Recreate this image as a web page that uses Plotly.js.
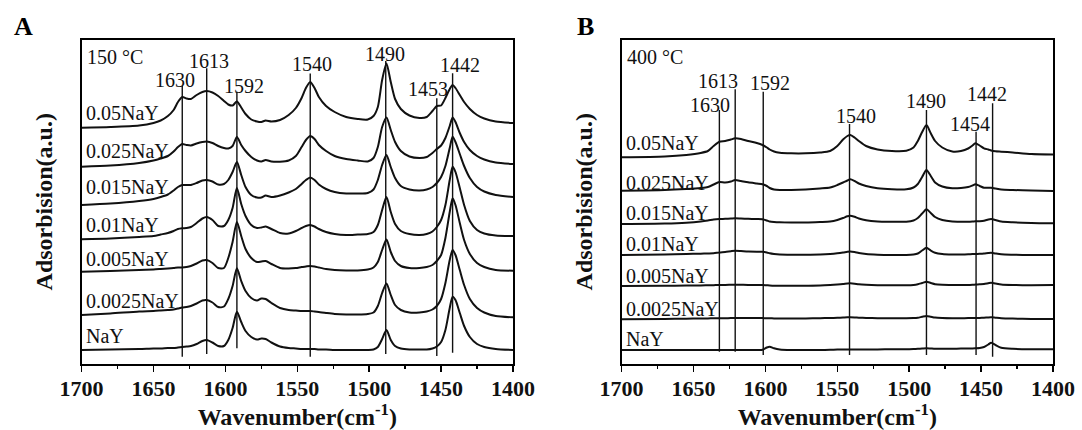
<!DOCTYPE html>
<html>
<head>
<meta charset="utf-8">
<script src="https://cdn.plot.ly/plotly-3.0.1.min.js"></script>
<style>html,body{margin:0;padding:0;background:#fff;}#chart{width:1082px;height:430px;}</style>
</head>
<body>
<div id="chart"></div>
<script>
// ---------- DATA ----------
const seriesNames = ['0.05NaY','0.025NaY','0.015NaY','0.01NaY','0.005NaY','0.0025NaY','NaY'];

// Panel A (150 °C) wavenumbers
const wnA = [1700,1680,1660,1650,1645,1640,1636,1633,1630,1627,
 1624,1620,1616,1613,1609,1605,1601,1598,1595,1592,
 1589,1586,1582,1578,1575,1572,1568,1562,1556,1551,
 1547,1544,1541,1538,1535,1530,1524,1516,1508,1501,
 1497,1494,1491,1488,1485,1482,1478,1472,1465,1460,
 1456,1453,1450,1447,1444,1442,1440,1437,1434,1430,
 1425,1420,1412,1400];

// stacked (offset) absorbance, arbitrary units
const a_005 = [235.8,236.5,238,240.5,243,247.5,253.5,261.5,266.5,265,
 264.5,268.5,271.5,272.5,271,267.5,262.5,259,258,262,
 256,249.5,244,242,241.5,243,242,243.5,248.5,255.5,
 265.5,275.5,281.5,275.5,266.5,257.5,251.5,246.5,244.5,244,
 247.5,256.5,283.5,300,281.5,264.5,254.5,248,245.5,246.5,
 252.5,257.5,258,265.5,274.5,278.5,275.5,268.5,261.5,254.5,
 248.5,245,242,240.5];
const a_0025 = [196.8,198,200.5,203,205,207.5,212,216.5,219.5,218.5,
 218,220,221.5,222,220.5,217.5,215.5,215,217.5,226.5,
 218.5,212.5,206.5,203,202,203.5,202,201.8,203,207.5,
 216.5,223.5,227.5,224.5,218.5,212.5,207.5,204.5,203,202,
 205.5,216.5,236.5,246,233.5,221.5,212.5,207,205.5,206.5,
 210.5,214.5,218,225.5,237.5,246,241.5,230.5,221.5,213.5,
 207.5,204,201,199.5];
const a_0015 = [158.5,160,162.5,164.5,166.5,169,173,176.5,178.5,178.5,
 178.5,180.5,183,183.5,182,179,179.5,183.5,191.5,201.5,
 188.5,176.5,168.5,166,166,168,166.5,168,171,174.5,
 179.5,183.5,186,183.5,179,174.5,171.5,170,170,170.5,
 174,183.5,198.5,208.5,196.5,185.5,177.5,174,173,174,
 176.5,180.5,186.5,197.5,215.5,226.8,221.5,209.5,197.5,185.5,
 176.5,172,168.5,166.5];
const a_001 = [124.2,125,126.5,127.5,129,130.5,132.5,134.5,135.2,135.5,
 136.5,140.5,145,146.5,143.5,137.5,137.5,143.5,155.5,175.5,
 159.5,147.5,138.5,135.5,136,137,134.5,130.5,130,132.5,
 135.5,137.5,138.5,137,134.5,131.5,129.5,128.5,129,129.5,
 131.5,138.5,153.5,166.5,151.5,139.5,132.5,129.5,128.5,129.5,
 132,136.5,143.5,158.5,183.5,196.8,191.5,175.5,158.5,142.5,
 133.5,130,128,127.5];
const a_0005 = [91.8,92.5,93.5,94,94.5,95,95.5,96,96,96.5,
 97.5,100,103,103.5,100.5,95.5,95.5,105.5,121.5,141.5,
 127.5,114.5,105.5,101.5,102,102.5,99.5,95.5,95,95.5,
 96.5,97,97.5,97,96,94.5,93.5,93,93,94,
 96,101.5,113.5,124,111.5,102.5,97.5,95.5,95.5,96.5,
 98.5,102.5,108.5,125.5,151.5,165.2,158.5,140.5,123.5,109.5,
 100.5,96.5,93.5,92.8];
const a_00025 = [48.5,50,52,52.5,53,53.5,54,55,56,56.5,
 57.5,60,63,63.5,61,56.5,57,64.5,77.5,95.2,
 82.5,72.5,65.5,63,65,64.5,60.5,55.5,53.5,53,
 52.5,52.5,52.5,52,51.5,50.5,49.5,49,49,49.5,
 51,57.5,70.5,80,68.5,58.5,53.5,51,51,52,
 54,57.5,64.5,80.5,103.5,113.5,108.5,93.5,78.5,64.5,
 55.5,51,47.5,46.2];
const a_NaY = [13.5,14,14.5,15,15,15.5,15.5,16,16.5,17,
 17.5,19.5,22.5,23.5,21,17.5,17.5,23.5,35.5,51.8,
 41.5,32.5,26.5,24,25,24.5,21,17,15.5,15,
 14.5,14.5,14.5,14.5,14,14,13.5,13.5,13.5,13.5,
 14,16.5,24.5,33.5,23.5,17.5,15,14,14,14,
 15,17,21.5,33.5,55.5,66.8,63.5,50.5,37.5,26.5,
 19.5,16.5,14.5,13.5];

// Panel B (400 °C) wavenumbers
const wnB = [1700,1670,1655,1645,1640,1636,1632,1628,1624,1621,
 1617,1612,1606,1602,1599,1597,1594,1590,1582,1572,
 1562,1555,1550,1546,1543,1541,1538,1535,1530,1522,
 1512,1502,1497,1494,1491,1488,1485,1482,1477,1470,
 1464,1459,1456,1454,1451,1448,1445,1443,1440,1436,
 1428,1415,1400];
const b_005 = [206.2,207,208.5,210.5,212.5,217.5,221.8,222.5,224,225.2,
 224.5,222.5,220.5,218.5,216,214,212,210.8,210.2,210.2,
 211,212.5,217.5,224,227.5,228.5,226,222.5,217.5,214,
 212.5,212.8,216,222.5,231.5,238.5,230.2,222.5,216,212,
 212.5,215,218,220.2,218,215.2,214,213,212.2,211.8,
 211,209.5,209];
const b_0025 = [172.8,173.5,174.5,175.5,176.5,179,181.5,181,182,183.5,
 182.5,181.2,180,179.2,177.5,175.5,174,173.5,173.5,174,
 175,176,178.5,181,183,184.2,182.5,180,177.5,175.2,
 174.2,174.2,176,179.5,186.5,193.5,187.5,181,177,175.2,
 175.5,176.5,178,179.2,177.5,175.8,175.8,175.8,175,174,
 173.5,173,172.5];
const b_0015 = [139.5,140,140.8,142,143,144,144.5,144.7,145,145.2,
 145,144.7,144.5,144.2,143,142,141.5,141.2,141,141,
 141.5,142,143.5,145.5,147.2,147.8,146.7,145,143.2,142,
 141.8,141.8,143,145.5,150,154.2,150.5,146.5,143.5,142,
 141.8,141.8,142,142.2,142.3,142.7,144,144.5,143.5,142,
 141.2,140.5,140.2];
const b_001 = [108.5,109,109.5,109.8,110,110.2,111,111.5,112.3,112.8,
 112.5,112,111.8,111.8,111,110.2,109.5,109,108.8,108.8,
 109,109.5,110.2,111,111.7,112,111.5,110.5,109.5,108.8,
 108.5,108.5,109,110,113,115.8,113,110.8,109.5,109,
 109,109.2,109.5,109.5,109.7,110,110.5,110.7,110,109.2,
 108.8,108.5,108.5];
const b_0005 = [77.5,77.7,77.9,78,78.2,78.3,78.5,78.5,78.7,78.8,
 78.7,78.5,78.5,78.5,78.2,78,77.8,77.7,77.7,77.8,
 78,78.5,79,79.5,80,80.2,79.8,79.2,78.7,78.3,
 78.2,78.2,78.5,79.2,80.5,81.8,80.5,79.3,78.7,78.5,
 78.5,78.5,78.7,78.9,79.2,79.5,80.3,80.8,80,79,
 78.5,78.3,78.5];
const b_00025 = [44.2,44.5,44.8,45,45.1,45.2,45.3,45.3,45.4,45.5,
 45.5,45.5,45.5,45.4,45.3,45.2,45.1,45,45,45.1,
 45.3,45.5,45.7,46,46.2,46.2,46.1,45.8,45.5,45.3,
 45.2,45.2,45.4,45.8,46.7,47.5,46.7,45.9,45.5,45.3,
 45.3,45.4,45.5,45.5,45.6,45.8,46.1,46.2,45.8,45.3,
 44.9,44.6,44.5];
const b_NaY = [13.5,13.5,13.5,13.5,13.5,13.5,13.5,13.5,13.5,13.5,
 13.5,13.5,13.5,13.7,16,16.8,15.2,14,13.5,13.5,
 13.5,13.7,13.9,14,14.1,14.1,14.1,14,14,14.1,
 14.2,14.3,14.5,14.7,15,15.3,15,14.7,14.7,14.8,
 14.9,15,15.1,15.2,15.5,16.5,19,20.8,18.5,15.8,
 14.7,14.3,14.2];

// Peak marker lines and their labels
const peakPosA = [1630,1613,1592,1541,1488.5,1453,1442];
const peakTextA = ['1630','1613','1592','1540','1490','1453','1442'];
const peakTopA = [277.5,295.2,271.8,290,302.5,265.2,290.2];
const peakBotA = [6.8,9.5,15.2,6.8,9.5,7.5,10.8];

const peakPosB = [1632,1621,1601.5,1541.5,1488,1453.5,1442];
const peakTextB = ['1630','1613','1592','1540','1490','1454','1442'];
const peakTopB = [253.5,274.2,271.8,239.5,253.5,231.8,260.2];
const peakBotB = [11.8,11.8,8.5,8.5,8.5,8.5,6.8];

const tickVals = [1700,1650,1600,1550,1500,1450,1400];
const tempA = '150 °C';
const tempB = '400 °C';

// ---------- LAYOUT HELPERS (positions / styles) ----------
const labelXA = [1635,1611.3,1587.1,1540,1489,1459.1,1436.9];
const labelYA = [284,302.5,277.5,300,309.5,275,298.5];
const labelXB = [1638.2,1633,1596.6,1537,1488,1458,1446];
const labelYB = [258.2,282.8,280.5,247.7,262.5,239.8,269.5];
const nameYA = [250.5,212.5,176.5,138.5,104.5,62.5,27.5];
const nameYB = [220.5,180.5,151,119.5,87.5,54.5,24.5];

const serif = 'Liberation Serif, Times New Roman, serif';
const seriesA = [a_005,a_0025,a_0015,a_001,a_0005,a_00025,a_NaY];
const seriesB = [b_005,b_0025,b_0015,b_001,b_0005,b_00025,b_NaY];

const traces = [];
function addPanel(wn, series, pos, top, bot, xa, ya){
  series.forEach((ys,i)=>{
    traces.push({x:wn, y:ys, xaxis:xa, yaxis:ya, type:'scatter', mode:'lines',
      name:seriesNames[i], line:{color:'#111', width:2, shape:'spline', smoothing:0.7},
      showlegend:false, hoverinfo:'x+y+name'});
  });
  pos.forEach((p,i)=>{
    traces.push({x:[p,p], y:[bot[i],top[i]], xaxis:xa, yaxis:ya, type:'scatter', mode:'lines',
      line:{color:'#111', width:1.4}, showlegend:false, hoverinfo:'skip'});
  });
}
addPanel(wnA, seriesA, peakPosA, peakTopA, peakBotA, 'x', 'y');
addPanel(wnB, seriesB, peakPosB, peakTopB, peakBotB, 'x2', 'y2');

const annotations = [];
function addLabels(xref, yref, lx, ly, texts, names, nameY, temp){
  texts.forEach((t,i)=>annotations.push({xref, yref, x:lx[i], y:ly[i], text:t, showarrow:false,
    xanchor:'center', yanchor:'middle', font:{family:serif, size:20, color:'#111'}}));
  names.forEach((n,i)=>annotations.push({xref, yref, x:1698.6, y:nameY[i], text:n, showarrow:false,
    xanchor:'left', yanchor:'middle', font:{family:serif, size:20, color:'#111'}}));
  annotations.push({xref, yref, x:1697.8, y:307, text:temp, showarrow:false,
    xanchor:'left', yanchor:'middle', font:{family:serif, size:20, color:'#111'}});
}
addLabels('x','y',labelXA,labelYA,peakTextA,seriesNames,nameYA,tempA);
addLabels('x2','y2',labelXB,labelYB,peakTextB,seriesNames,nameYB,tempB);
annotations.push({xref:'paper', yref:'paper', x:23/1082, y:1-26/430, text:'<b>A</b>', showarrow:false,
  xanchor:'center', yanchor:'middle', font:{family:serif, size:26, color:'#000'}});
annotations.push({xref:'paper', yref:'paper', x:585.5/1082, y:1-26/430, text:'<b>B</b>', showarrow:false,
  xanchor:'center', yanchor:'middle', font:{family:serif, size:26, color:'#000'}});

function xAxis(domain, anchor){
  return {domain, anchor, range:[1700,1400], showgrid:false, zeroline:false,
    showline:true, mirror:true, linecolor:'#000', linewidth:2,
    tickvals:tickVals, ticktext:tickVals.map(String), ticks:'outside', ticklen:6, tickwidth:1.5, tickcolor:'#000',
    minor:{dtick:25, tick0:1400, ticks:'outside', ticklen:3, tickwidth:1.5, tickcolor:'#000'},
    ticklabelstandoff:-2,
    tickfont:{family:serif, size:22, color:'#111', weight:'bold'},
    title:{text:'<b>Wavenumber(cm<sup style="font-size:13px">-1</sup>)</b>', font:{family:serif, size:24, color:'#111'}}};
}
function yAxis(domain, anchor){
  return {domain, anchor, range:[0,323.5], showgrid:false, zeroline:false,
    showline:true, mirror:true, linecolor:'#000', linewidth:2, ticks:'', showticklabels:false,
    title:{text:'<b>Adsorbision(a.u.)</b>', font:{family:serif, size:24, color:'#111'}, standoff:20}};
}
const yDom = [(430-363.5)/430, (430-40)/430];
const layout = {
  width:1082, height:430, margin:{l:0,r:0,t:0,b:0}, paper_bgcolor:'#fff', plot_bgcolor:'#fff',
  showlegend:false,
  xaxis: xAxis([81.6/1082, 513/1082], 'y'),
  yaxis: yAxis(yDom, 'x'),
  xaxis2: xAxis([621.6/1082, 1053/1082], 'y2'),
  yaxis2: yAxis(yDom, 'x2'),
  annotations
};
Plotly.newPlot('chart', traces, layout, {displayModeBar:false, staticPlot:true});
</script>
</body>
</html>
